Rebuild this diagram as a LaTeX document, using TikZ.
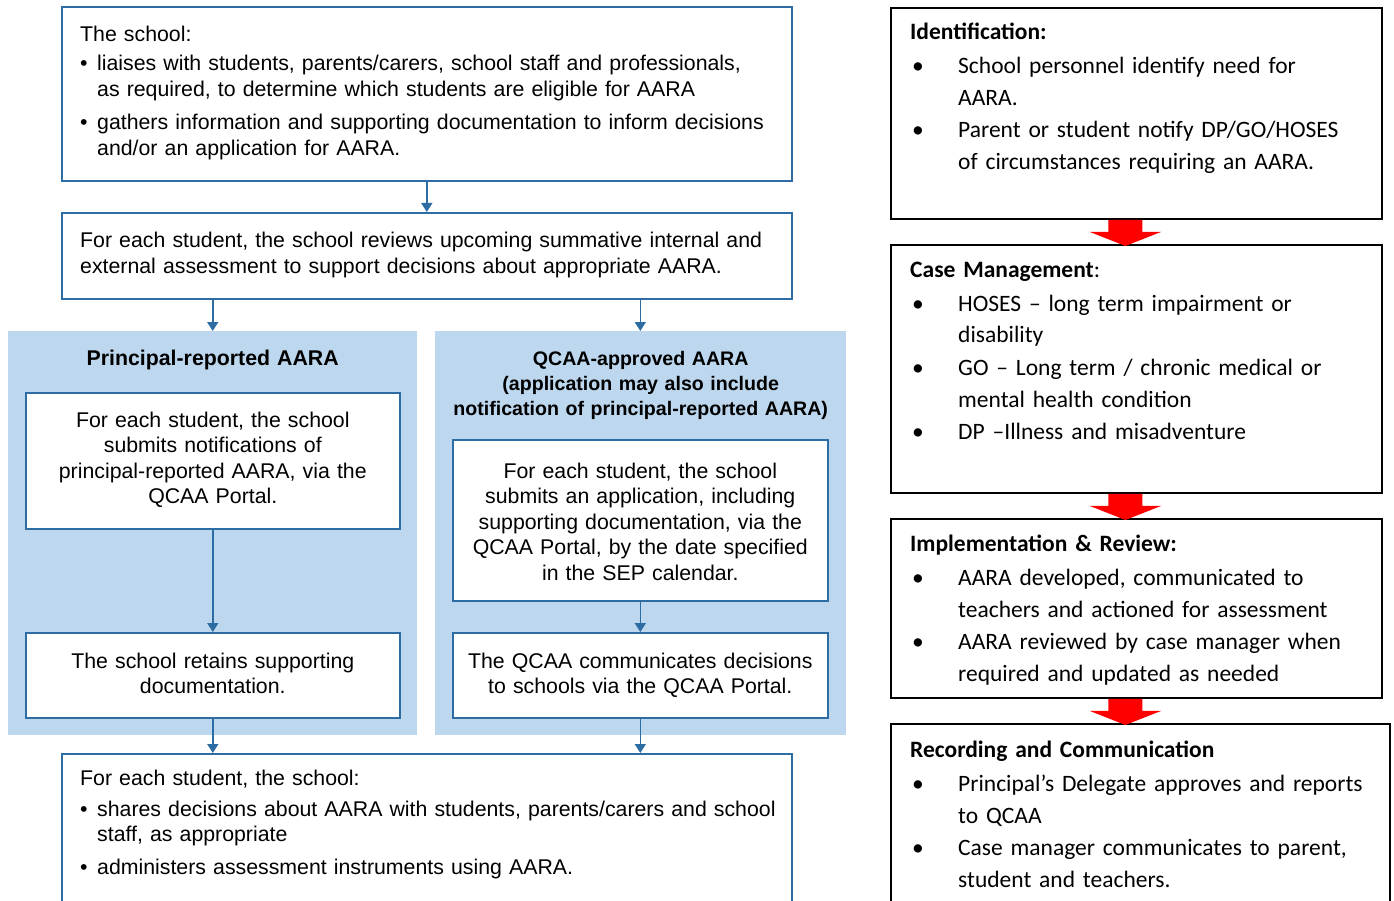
\documentclass[tikz,border=0pt]{standalone}
\usepackage{fontspec}
\setmainfont{Liberation Sans}
\newfontfamily\calibrifont{Carlito}
\usetikzlibrary{calc,positioning,arrows.meta}
\definecolor{QBlue}{HTML}{2E6DA4}
\definecolor{QPanel}{HTML}{BDD7EE}
\definecolor{QRed}{HTML}{FF0000}
\newcommand{\lbul}{\makebox[17pt][l]{•}}
\newcommand{\lind}{\hspace*{17pt}}
\newcommand{\rbul}{\makebox[48pt][l]{\hspace*{2pt}•}}
\newcommand{\rind}{\hspace*{48pt}}

\begin{document}
\begin{tikzpicture}[
    x=1pt, y=-1pt,
    flowbox/.style={draw=QBlue, line width=1.6pt, fill=white, anchor=north west, inner sep=0pt},
    panel/.style={fill=QPanel, anchor=north west, inner sep=0pt},
    sidebox/.style={draw=black, line width=1.8pt, anchor=north west, inner sep=0pt},
    flowtext/.style={font=\fontsize{21.3}{25.5}\selectfont, inner sep=0pt, text width=#1},
    paneltitle/.style={font=\bfseries\fontsize{#1}{25}\selectfont, inner sep=0pt, text width=400, align=center, anchor=base},
    sidetext/.style={font=\calibrifont\fontsize{23.5}{32}\selectfont, inner sep=0pt, text width=480, align=left, anchor=base west},
    flowarrow/.style={draw=QBlue, line width=1.6pt, -{Triangle[width=11pt,length=9pt]}}
 ]
\useasboundingbox (0,0) rectangle (1394,901);

% left flow
\node[flowbox, minimum width=730, minimum height=174] (liaise) at (61,6) {};
\node[flowtext=700, align=left, anchor=base west] (liaisetxt) at ($(liaise.north west)+(19,36)$)
    {The school:\\[3.5pt]
     \lbul liaises with students, parents/carers, school staff and professionals,\\
     \lind as required, to determine which students are eligible for AARA\\[8pt]
     \lbul gathers information and supporting documentation to inform decisions\\
     \lind and/or an application for AARA.};

\node[flowbox, minimum width=730, minimum height=86] (review) at (61,212) {};
\node[flowtext=700, align=left, anchor=base west] (reviewtxt) at ($(review.north west)+(19,36)$)
    {For each student, the school reviews upcoming summative internal and\\
     external assessment to support decisions about appropriate AARA.};

\node[panel, minimum width=409, minimum height=404] (principal) at (8,331) {};
\node[panel, minimum width=411, minimum height=404] (approved) at (435,331) {};

\node[paneltitle=21.3] (principaltitle) at ($(principal.north)+(0,34)$) {Principal-reported AARA};
\node[paneltitle=19.6] (approvedtitle) at ($(approved.north)+(0,34)$)
    {QCAA-approved AARA\\ (application may also include\\ notification of principal-reported AARA)};

\node[flowbox, minimum width=374, minimum height=136] (notify) at (25,392) {};
\node[flowtext=370, align=center, anchor=base] (notifytxt) at ($(notify.north)+(0,35)$)
    {For each student, the school\\ submits notifications of\\ principal-reported AARA, via the\\ QCAA Portal.};

\node[flowbox, minimum width=374, minimum height=85] (retain) at (25,632) {};
\node[flowtext=370, align=center, anchor=base] (retaintxt) at ($(retain.north)+(0,36)$)
    {The school retains supporting\\ documentation.};

\node[flowbox, minimum width=375, minimum height=161] (apply) at (452,439) {};
\node[flowtext=370, align=center, anchor=base] (applytxt) at ($(apply.north)+(0,39)$)
    {For each student, the school\\ submits an application, including\\ supporting documentation, via the\\ QCAA Portal, by the date specified\\ in the SEP calendar.};

\node[flowbox, minimum width=375, minimum height=85] (decide) at (452,632) {};
\node[flowtext=370, align=center, anchor=base] (decidetxt) at ($(decide.north)+(0,36)$)
    {The QCAA communicates decisions\\ to schools via the QCAA Portal.};

\node[flowbox, minimum width=730, minimum height=170] (share) at (61,753) {};
\node[flowtext=700, align=left, anchor=base west] (sharetxt) at ($(share.north west)+(19,32)$)
    {For each student, the school:\\[5.5pt]
     \lbul shares decisions about AARA with students, parents/carers and school\\
     \lind staff, as appropriate\\[7.5pt]
     \lbul administers assessment instruments using AARA.};

\draw[flowarrow] (liaise.south) -- (review.north);
\draw[flowarrow] (review.south -| principal.north) -- (principal.north);
\draw[flowarrow] (review.south -| apply.north) -- (approved.north -| apply.north);
\draw[flowarrow] (notify.south) -- (retain.north);
\draw[flowarrow] (apply.south) -- (decide.north);
\draw[flowarrow] (retain.south) -- (retain.south |- share.north);
\draw[flowarrow] (decide.south) -- (decide.south |- share.north);

% right side
\node[sidebox, minimum width=491, minimum height=211] (ident) at (890,7) {};
\node[sidetext] (identtxt) at ($(ident.north west)+(20,33)$)
    {\textbf{Identification:}\\[2pt]
     \rbul School personnel identify need for\\
     \rind AARA.\\
     \rbul Parent or student notify DP/GO/HOSES\\
     \rind of circumstances requiring an AARA.};

\node[sidebox, minimum width=491, minimum height=248] (casemgmt) at (890,244) {};
\node[sidetext] (casemgmttxt) at ($(casemgmt.north west)+(20,33)$)
    {\textbf{Case Management}:\\[2pt]
     \rbul HOSES – long term impairment or\\
     \rind disability\\
     \rbul GO – Long term / chronic medical or\\
     \rind mental health condition\\
     \rbul DP –Illness and misadventure};

\node[sidebox, minimum width=491, minimum height=179] (implement) at (890,518) {};
\node[sidetext] (implementtxt) at ($(implement.north west)+(20,33)$)
    {\textbf{Implementation \& Review:}\\[2pt]
     \rbul AARA developed, communicated to\\
     \rind teachers and actioned for assessment\\
     \rbul AARA reviewed by case manager when\\
     \rind required and updated as needed};

\node[sidebox, minimum width=499, minimum height=200] (record) at (890,723) {};
\node[sidetext] (recordtxt) at ($(record.north west)+(20,34)$)
    {\textbf{Recording and Communication}\\[2pt]
     \rbul Principal’s Delegate approves and reports\\
     \rind to QCAA\\
     \rbul Case manager communicates to parent,\\
     \rind student and teachers.};

\foreach \a/\b in {ident/casemgmt, casemgmt/implement, implement/record} {
    \path (\a.south) ++(-11,0) coordinate (top);
    \fill[QRed] ($(top)+(-17,0)$) -- ($(top)+(17,0)$) -- ($(top)+(17,12)$) -- ($(top)+(36,12)$)
        -- ($(top |- \b.north)+(0,2)$) -- ($(top)+(-36,12)$) -- ($(top)+(-17,12)$) -- cycle;
}

\end{tikzpicture}
\end{document}
